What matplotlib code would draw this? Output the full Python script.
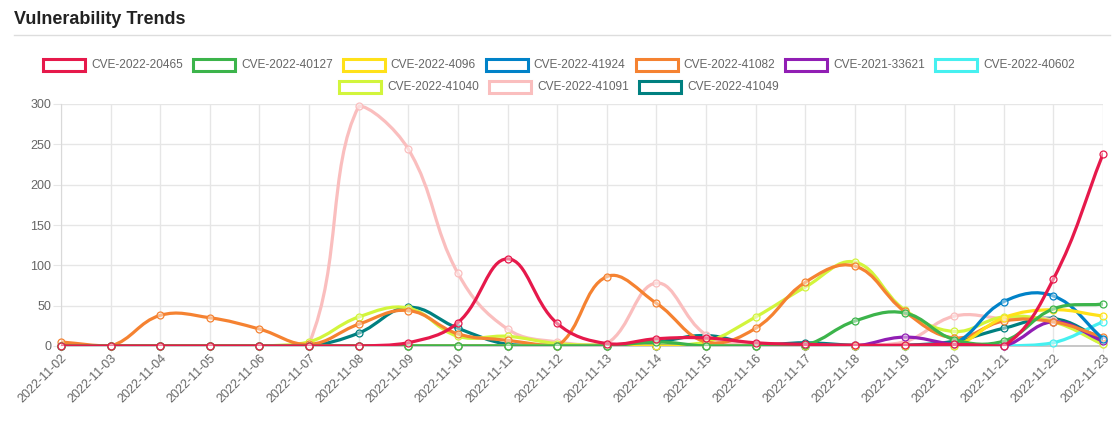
import matplotlib
matplotlib.use('Agg')
import numpy as np
import matplotlib.pyplot as plt
from matplotlib.path import Path
from matplotlib.patches import PathPatch, Rectangle
from matplotlib.lines import Line2D

plt.rcParams['font.family'] = ['Liberation Sans', 'DejaVu Sans']

# ---- data ----
dates = ['2022-11-%02d' % d for d in range(2, 24)]

cve_names = ['CVE-2022-20465', 'CVE-2022-40127', 'CVE-2022-4096', 'CVE-2022-41924',
             'CVE-2022-41082', 'CVE-2021-33621', 'CVE-2022-40602', 'CVE-2022-41040',
             'CVE-2022-41091', 'CVE-2022-41049']
cve_colors = ['#e6194b', '#3cb44b', '#ffe119', '#0082c8', '#f58231',
              '#911eb4', '#46f0f0', '#d2f53c', '#fabebe', '#008080']

cve_2022_20465 = [0, 0, 0, 0, 0, 0, 0, 4, 29, 108, 28, 3, 9, 10, 4, 2, 1, 1, 2, 0, 83, 238]
cve_2022_40127 = [0, 0, 0, 0, 0, 0, 0, 0, 0, 0, 0, 0, 5, 0, 0, 1, 31, 41, 8, 6, 46, 52]
cve_2022_4096  = [0, 0, 0, 0, 0, 0, 0, 0, 0, 0, 0, 0, 0, 0, 0, 0, 0, 0, 0, 35, 45, 37]
cve_2022_41924 = [0, 0, 0, 0, 0, 0, 0, 0, 0, 0, 0, 0, 0, 0, 0, 0, 0, 0, 3, 55, 62, 9]
cve_2022_41082 = [5, 0, 38, 35, 21, 2, 27, 44, 15, 7, 0, 86, 53, 5, 22, 79, 99, 43, 10, 31, 30, 11]
cve_2021_33621 = [0, 0, 0, 0, 0, 0, 0, 0, 0, 0, 0, 0, 0, 0, 0, 0, 0, 11, 2, 0, 30, 6]
cve_2022_40602 = [0, 0, 0, 0, 0, 0, 0, 0, 0, 0, 0, 0, 0, 0, 0, 0, 0, 0, 0, 0, 4, 30]
cve_2022_41040 = [0, 0, 0, 0, 0, 5, 36, 47, 12, 12, 3, 1, 1, 5, 36, 73, 104, 45, 18, 36, 30, 2]
cve_2022_41091 = [0, 0, 0, 0, 0, 3, 297, 244, 90, 21, 5, 3, 78, 14, 1, 1, 1, 5, 37, 34, 32, 2]
cve_2022_41049 = [0, 0, 0, 0, 0, 0, 16, 48, 22, 2, 1, 1, 5, 13, 2, 4, 1, 1, 6, 22, 34, 8]

series = [cve_2022_20465, cve_2022_40127, cve_2022_4096, cve_2022_41924, cve_2022_41082,
          cve_2021_33621, cve_2022_40602, cve_2022_41040, cve_2022_41091, cve_2022_41049]

y_ticks = [0, 50, 100, 150, 200, 250, 300]

# ---- figure ----
W, H = 1118, 428
fig = plt.figure(figsize=(W / 100, H / 100), dpi=100)
L, R, T, B = 61, 1103, 104, 346
ax = fig.add_axes([L / W, 1 - B / H, (R - L) / W, (B - T) / H])

n = len(dates)
ax.set_xlim(0, n - 1)
ax.set_ylim(0, 300)
sx = (R - L) / (n - 1)      # px per day
sy = (B - T) / 300.0        # px per unit


def chartjs_curve(vals, t=0.4):
    # spline like Chart.js (tension 0.4), computed in pixel space
    px = np.arange(len(vals)) * sx
    py = np.array(vals, dtype=float) * sy
    m = len(px)
    cp_prev, cp_next = [], []
    for i in range(m):
        p0 = (px[max(i - 1, 0)], py[max(i - 1, 0)])
        p1 = (px[i], py[i])
        p2 = (px[min(i + 1, m - 1)], py[min(i + 1, m - 1)])
        d01 = np.hypot(p1[0] - p0[0], p1[1] - p0[1])
        d12 = np.hypot(p2[0] - p1[0], p2[1] - p1[1])
        tot = d01 + d12
        s01 = d01 / tot if tot else 0
        s12 = d12 / tot if tot else 0
        fa, fb = t * s01, t * s12
        cpa = [p1[0] - fa * (p2[0] - p0[0]), p1[1] - fa * (p2[1] - p0[1])]
        cpb = [p1[0] + fb * (p2[0] - p0[0]), p1[1] + fb * (p2[1] - p0[1])]
        for c in (cpa, cpb):
            c[0] = min(max(c[0], 0), px[-1])
            c[1] = min(max(c[1], 0), 300 * sy)
        cp_prev.append(cpa)
        cp_next.append(cpb)
    verts = [(px[0], py[0])]
    codes = [Path.MOVETO]
    for i in range(m - 1):
        verts += [tuple(cp_next[i]), tuple(cp_prev[i + 1]), (px[i + 1], py[i + 1])]
        codes += [Path.CURVE4] * 3
    verts = [(vx / sx, vy / sy) for vx, vy in verts]
    return Path(verts, codes)


x = np.arange(n)
for k, (vals, col) in enumerate(zip(series, cve_colors)):
    z = 20 - 2 * k
    ax.add_patch(PathPatch(chartjs_curve(vals), facecolor='none', edgecolor=col,
                           lw=2.3, zorder=z, capstyle='round', joinstyle='round'))
    ax.plot(x, vals, ls='none', marker='o', ms=5, mew=0.9, mec=col,
            mfc=(1, 1, 1, 0.45), zorder=z + 1, clip_on=False)

# grid / axes like chart.js
ax.set_xticks(x)
ax.set_xticklabels(dates, rotation=45, ha='right', va='top', rotation_mode='anchor',
                   fontsize=9, color='#666666')
ax.set_yticks(y_ticks)
ax.set_yticklabels([str(v) for v in y_ticks], fontsize=9, color='#666666')
ax.grid(True, color='#e6e6e6', lw=1)
ax.set_axisbelow(True)
for s in ['top', 'right']:
    ax.spines[s].set_visible(False)
ax.spines['left'].set_color('#d9d9d9')
ax.spines['bottom'].set_color('#bfbfbf')
ax.spines['bottom'].set_linewidth(1.2)
ax.tick_params(axis='y', length=6, color='#e6e6e6', pad=1)
ax.tick_params(axis='x', length=4, color='#e6e6e6', pad=0.5)
ax.set_facecolor('white')

# ---- title + separator ----
fig.text(14 / W, 1 - 19 / H, 'Vulnerability Trends', fontsize=13, fontweight='bold',
         color='#222222', ha='left', va='center')
fig.add_artist(Line2D([14 / W, 1110 / W], [1 - 35 / H, 1 - 35 / H], color='#dddddd', lw=1))

# ---- legend (two centred rows, chart.js style) ----
renderer = fig.canvas.get_renderer()
rows = [list(range(7)), list(range(7, 10))]
row_y = [65, 87]
box_w, box_h, gap = 42, 12, 10
leg_fs = 8.6
for row, yy in zip(rows, row_y):
    widths = []
    for k in row:
        tt = fig.text(0, 0, cve_names[k], fontsize=leg_fs)
        widths.append(tt.get_window_extent(renderer).width)
        tt.remove()
    total = sum(box_w + 6 + w for w in widths) + gap * (len(row) - 1)
    xx = (W - total) / 2
    for k, w in zip(row, widths):
        fig.add_artist(Rectangle((xx / W, 1 - (yy + box_h / 2) / H), box_w / W, box_h / H,
                                 transform=fig.transFigure, facecolor='white',
                                 edgecolor=cve_colors[k], lw=2.2))
        fig.text((xx + box_w + 6) / W, 1 - yy / H, cve_names[k], fontsize=leg_fs,
                 color='#666666', ha='left', va='center')
        xx += box_w + 6 + w + gap

fig.savefig('out.png', dpi=100, facecolor='white')
